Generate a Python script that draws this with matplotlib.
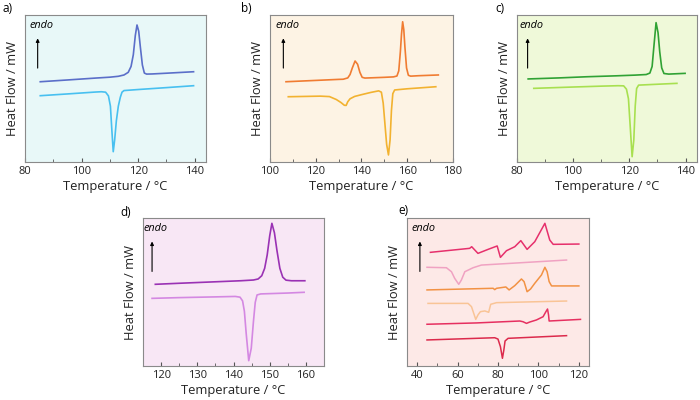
import matplotlib
matplotlib.use("Agg")
import matplotlib.pyplot as plt
from matplotlib.ticker import MultipleLocator

plt.rcParams['font.family'] = ['Open Sans', 'DejaVu Sans']

# a) heating / cooling
a_heat_T = [85.4, 95, 105, 110, 113, 115, 116.5, 117.5, 118.3, 119, 119.6, 120.2, 120.8, 121.5, 122.2, 123, 125, 130, 139.6]
a_heat_y = [54.6, 55.8, 57.1, 57.7, 58.3, 59.2, 61, 65, 73, 86, 93.2, 89, 78, 66, 60.5, 59.8, 59.9, 60.4, 61.4]
a_cool_T = [85.4, 95, 105, 107, 108.5, 109.5, 110.2, 110.7, 111.2, 111.7, 112.3, 113, 113.7, 114.3, 115, 120, 130, 139.6]
a_cool_y = [45.1, 46.3, 47.6, 47.8, 47.5, 45, 38, 22, 7, 15, 28, 38, 44, 47.5, 48.6, 49.3, 50.6, 51.9]

# b)
b_heat_T = [107, 120, 130, 132, 134, 135, 136, 137.2, 138.3, 139.3, 140.3, 141.5, 150, 154, 155.5, 156.3, 157, 157.5,
            158, 158.5, 159, 159.7, 160.5, 161.5, 165, 173.6]
b_heat_y = [54.6, 55.5, 56.2, 56.3, 57.2, 59.5, 64, 68.7, 66.5, 61, 57.6, 57.1, 57.6, 57.9, 58.5, 62, 75, 87,
            95.4, 90, 78, 64, 59, 58.4, 58.7, 59.2]
b_cool_T = [108, 115, 122, 126, 129, 131, 132.5, 133.3, 134, 135, 137, 140, 144, 147.5, 148.7, 149.5, 150.3, 151,
            151.8, 152.5, 153.1, 153.7, 154.5, 160, 172.5]
b_cool_y = [44.4, 44.6, 44.8, 44.5, 42.5, 40.5, 38.6, 38.5, 41, 43, 44.6, 45.8, 47.3, 48.4, 47.5, 40, 25, 12,
            4.8, 15, 35, 46.5, 49, 49.8, 51.2]

# c)
c_heat_T = [84.1, 95, 105, 115, 122, 126, 127.3, 128.1, 128.7, 129.5, 130.2, 130.8, 131.5, 132.3, 134, 139.8]
c_heat_y = [56.5, 57.2, 58, 58.6, 59.1, 59.5, 60.5, 65, 78, 94.8, 88, 75, 64, 60.2, 59.8, 60.3]
c_cool_T = [86.1, 100, 110, 116, 118, 119, 119.7, 120.3, 121, 121.6, 122.1, 122.6, 123.3, 130, 136.9]
c_cool_y = [50.1, 51, 51.6, 51.9, 51.8, 49.5, 43, 25, 3.6, 15, 38, 50, 52.3, 52.9, 53.5]

# d)
d_heat_T = [118.4, 125, 135, 142, 145.5, 146.8, 147.8, 148.6, 149.3, 150, 150.6, 151.3, 152, 152.8, 153.6, 154.5, 156, 159.7]
d_heat_y = [55.2, 55.9, 56.9, 57.6, 58.1, 58.8, 61, 66, 75, 88, 96.4, 90, 78, 66, 60, 58, 57.6, 57.6]
d_cool_T = [117.5, 125, 135, 140.5, 141.8, 142.5, 143, 143.5, 144.2, 144.9, 145.5, 146, 146.5, 147.5, 155, 159.5]
d_cool_y = [45.7, 46.2, 46.7, 47, 46.5, 44, 37, 22, 3.6, 12, 30, 43, 48, 48.7, 49.3, 49.8]

# e) six traces, top to bottom
e1_T = [46.6, 66.0, 67.0, 70.1, 75.1, 79.6, 81.2, 84.2, 88.3, 91.3, 94.4, 98.2, 103.2, 105.6, 107.3, 120.0]
e1_y = [76.8, 79.5, 80.6, 76.1, 78.8, 81.1, 73.4, 77.9, 80.6, 84.7, 78.8, 84.0, 96.4, 85.1, 82.2, 82.4]
e2_T = [44.9, 54.5, 57.0, 58.6, 60.6, 61.9, 63.6, 67.7, 71.8, 113.9]
e2_y = [66.7, 66.4, 63.7, 59.2, 55.2, 58.1, 63.7, 66.4, 68.2, 71.6]
e3_T = [44.9, 77.6, 78.4, 79.3, 83.9, 85.5, 88.3, 91.6, 92.9, 94.4, 96.1, 98.2, 101.5, 103.2, 104.3, 105.3, 106.5, 120.0]
e3_y = [51.4, 52.5, 51.6, 52.5, 53.4, 51.4, 54.3, 58.8, 57.0, 50.2, 52.0, 55.9, 61.5, 66.7, 63.7, 57.0, 54.1, 54.1]
e4_T = [45.4, 65.2, 66.9, 68.0, 69.0, 70.1, 71.3, 73.5, 75.4, 76.4, 79.3, 113.9]
e4_y = [42.3, 42.3, 40.1, 35.6, 31.5, 34.5, 36.7, 37.2, 36.3, 41.7, 42.8, 43.9]
e5_T = [44.9, 69.4, 90.8, 92.4, 94.1, 95.7, 99.0, 102.3, 103.7, 104.5, 105.0, 105.3, 120.8]
e5_y = [28.2, 29.1, 30.4, 29.9, 28.8, 29.7, 31.1, 33.3, 36.7, 38.5, 34.5, 30.4, 31.5]
e6_T = [44.9, 78.4, 80.0, 81.2, 82.2, 82.9, 83.5, 85.0, 113.9]
e6_y = [17.6, 19.1, 18.2, 13.1, 5.2, 10.8, 16.9, 18.7, 20.5]


def panel(rect, label, bg, xlim, xmaj, series, arrow_x, label_xy, lw=1.2):
    ax = fig.add_axes(rect)
    ax.set_facecolor(bg)
    for T, y, col in series:
        ax.plot(T, y, color=col, lw=lw)
    ax.set_xlim(*xlim)
    ax.set_ylim(0, 100)
    ax.set_yticks([])
    ax.xaxis.set_major_locator(MultipleLocator(xmaj))
    ax.xaxis.set_minor_locator(MultipleLocator(xmaj / 2))
    ax.tick_params(axis='x', which='both', direction='in', colors='#555555',
                   labelsize=8, pad=3, labelcolor='#222222')
    ax.tick_params(axis='x', which='major', length=3)
    ax.tick_params(axis='x', which='minor', length=2)
    for s in ax.spines.values():
        s.set_color('#8a8a8a')
        s.set_linewidth(0.8)
    ax.set_xlabel('Temperature / °C', fontsize=9.3, labelpad=2, color='#222222')
    ax.set_ylabel('Heat Flow / mW', fontsize=9.3, labelpad=4, color='#222222')
    ax.annotate('', xy=(arrow_x, 0.86), xytext=(arrow_x, 0.62), xycoords='axes fraction',
                arrowprops=dict(arrowstyle='-|>', color='black', lw=0.8, mutation_scale=5))
    ax.text(arrow_x - 0.045, 0.93, 'endo', transform=ax.transAxes, fontsize=7.8, style='italic',
            va='center', ha='left')
    fig.text(label_xy[0], label_xy[1], label, fontsize=8.5, ha='left', va='center')
    return ax


fig = plt.figure(figsize=(7, 4), dpi=100)

panel([0.0357, 0.595, 0.2586, 0.3675], 'a)', '#e8f8f8', (80, 144), 20,
      [(a_heat_T, a_heat_y, '#5b6fc9'), (a_cool_T, a_cool_y, '#48c0f0')], 0.07, (0.003, 0.98))
panel([0.3857, 0.595, 0.2614, 0.3675], 'b)', '#fdf3e4', (100, 180), 20,
      [(b_heat_T, b_heat_y, '#f07c32'), (b_cool_T, b_cool_y, '#f2b230')], 0.073, (0.345, 0.98))
panel([0.738, 0.595, 0.2576, 0.3675], 'c)', '#eff9d9', (80, 144), 20,
      [(c_heat_T, c_heat_y, '#30a234'), (c_cool_T, c_cool_y, '#a8e050')], 0.061, (0.708, 0.98))
panel([0.2043, 0.085, 0.2586, 0.37], 'd)', '#f8e7f5', (115, 165), 10,
      [(d_heat_T, d_heat_y, '#9a32b4'), (d_cool_T, d_cool_y, '#d488e2')], 0.05, (0.172, 0.468))
panel([0.5814, 0.085, 0.26, 0.37], 'e)', '#fde9e7', (35, 125), 20,
      [(e1_T, e1_y, '#e6306c'), (e2_T, e2_y, '#f0a2c2'), (e3_T, e3_y, '#f29244'),
       (e4_T, e4_y, '#f9c496'), (e5_T, e5_y, '#e63060'), (e6_T, e6_y, '#dc2a4c')],
      0.071, (0.569, 0.475), lw=1.1)

fig.savefig('out.png', dpi=100)
